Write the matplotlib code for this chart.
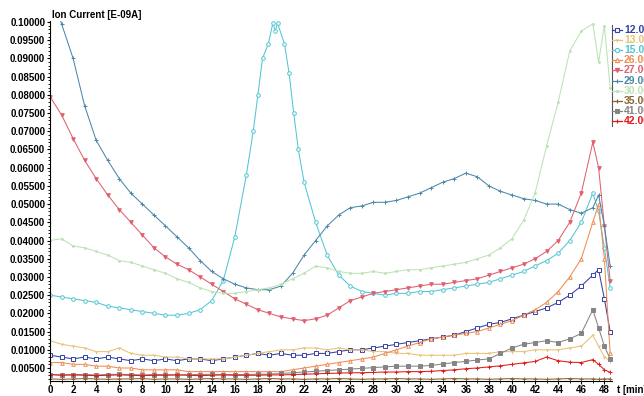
import numpy as np
import matplotlib.pyplot as plt
from matplotlib.ticker import MultipleLocator
from matplotlib.lines import Line2D

plt.rcParams['font.family'] = ['Liberation Sans', 'DejaVu Sans']

# time axis in minutes (most channels share it)
t = list(range(0, 48)) + [47.5, 48, 48.5]

# ion currents, values in 1e-3 of the plotted unit
m12 = [8.5, 8, 7.5, 8, 7.5, 8, 7.5, 7, 7.5, 7, 7.5, 7, 7.5, 7.5, 7, 7.5, 8, 8.5, 9, 8.5,
       9, 8.5, 8.5, 9, 9, 9.5, 10, 10, 10.5, 11, 11.5, 12, 12.5, 13, 13.5, 14, 15, 16, 17, 17.5,
       18.5, 19.5, 20.5, 21.5, 23, 25, 27.5, 30.5, 32, 24, 15]
m13 = [12.5, 11.5, 11, 10.5, 9.5, 9.5, 10.5, 9, 8.5, 8.5, 8, 8, 7.5, 7.5, 7.5, 7.5, 8, 8.5, 9, 9.5,
       10, 10, 10.5, 10.5, 10, 10.5, 10, 10, 9.5, 9.5, 9, 9, 8.5, 8.5, 8.5, 8.5, 9, 9, 9, 9.5,
       9.5, 9.5, 10, 10, 10, 10.5, 11, 14, 11, 8, 7]
m26 = [6.5, 6.5, 6, 6, 5.5, 5.5, 5, 5, 4.5, 4.5, 4.5, 4.5, 4, 4, 4, 4, 4, 4, 4, 4,
       4, 4.5, 5, 5.5, 6, 6.5, 7, 7.5, 8, 9, 10, 11, 12, 13, 13.5, 14, 14.5, 15, 16, 17,
       18, 19.5, 21, 23, 26, 30, 35, 45, 50, 35, 9]
m27 = [79.5, 74.5, 68, 62, 57, 52.5, 48.5, 45, 41.5, 38, 35.5, 33.5, 32, 30, 28, 26, 24, 22.5, 21, 20,
       19, 18.5, 18, 18.5, 19.5, 21.5, 23.5, 24.5, 25.5, 26, 26.5, 27, 27.5, 28, 28, 28.5, 29, 29.5, 30.5, 31.5,
       32.5, 33.5, 35, 37, 40, 45, 53, 67, 60, 44, 29]
m29 = [110, 99.5, 90, 77, 67.5, 62, 57, 53, 50, 47, 44, 41, 38, 34.5, 31.5, 29.5, 28, 27, 26.5, 26.5,
       27.5, 31, 36, 40, 44, 47, 49, 49.5, 50.5, 50.5, 51, 52, 53, 54.5, 56, 57, 58.5, 57.5, 55, 53.5,
       52.5, 51.5, 51, 50, 50, 48.5, 47.5, 49, 52.5, 44, 33]
m30 = [40, 40.5, 38.5, 38, 37, 36, 34.5, 34, 33, 32, 31, 29.5, 28.5, 27, 26, 25.5, 25.5, 26, 26.5, 27,
       28, 29.5, 31, 33, 32.5, 31.5, 31, 31, 31.5, 31, 31.5, 32, 32, 32.5, 33, 33.5, 34, 35, 36, 38,
       40.5, 45.5, 53, 66, 78, 92, 97.5, 99.5, 89, 99, 82]
m35 = [2.0, 1.9, 2.0, 2.1, 2.0, 1.9, 2.0, 2.0, 2.1, 1.9, 2.0, 2.0, 1.9, 2.0, 2.1, 2.0, 2.0, 1.9, 2.0, 2.1,
       2.0, 2.0, 1.9, 2.0, 2.0, 2.1, 2.0, 1.9, 2.0, 2.0, 2.1, 2.0, 2.0, 1.9, 2.0, 2.1, 2.0, 2.0, 1.9, 2.0,
       2.1, 2.0, 2.0, 1.9, 2.0, 2.1, 2.0, 2.0, 1.9, 2.0, 2.0]
m41 = [3.2, 3.1, 3.2, 3.2, 3.1, 3.2, 3.3, 3.2, 3.1, 3.2, 3.2, 3.1, 3.2, 3.2, 3.3, 3.2, 3.2, 3.2, 3.3, 3.3,
       3.5, 3.7, 3.9, 4.1, 4.3, 4.5, 4.7, 4.9, 5.1, 5.3, 5.5, 5.5, 5.5, 5.7, 6.1, 6.5, 6.8, 7.2, 7.5, 9,
       10.5, 11.5, 12, 12.5, 12, 13, 14.5, 21, 16, 11, 7.5]
m42 = [3.2, 3.0, 3.1, 3.0, 2.9, 3.0, 3.1, 3.0, 2.9, 3.0, 3.0, 3.1, 3.0, 2.9, 3.0, 3.1, 3.0, 3.0, 3.0, 3.1,
       3.1, 3.2, 3.3, 3.4, 3.5, 3.6, 3.7, 3.7, 3.8, 3.9, 3.9, 4.0, 4.0, 4.1, 4.3, 4.5, 4.8, 5.0, 5.3, 5.6,
       6.0, 6.4, 6.8, 8.0, 7.0, 6.6, 6.5, 7.3, 6.0, 4.5, 3.8]

# channel 15 has its own time base around the peak
t15 = list(range(0, 18)) + [17.6, 18, 18.4, 18.9, 19.3, 19.5, 19.7, 20.3, 20.7, 21.1, 21.5] + \
      list(range(22, 48)) + [47.5, 48, 48.5]
m15 = [25, 24.5, 24, 23.5, 23, 22, 21.5, 21, 20.5, 20, 19.5, 19.5, 20, 21, 23.5, 29, 41, 58,
       70, 80, 90, 94, 99.7, 97.5, 99.7, 94, 86, 75, 65,
       56, 45, 36, 30.5, 27.5, 26, 25.5, 25, 25.5, 25.5, 26, 26, 26.5, 27, 27.5, 28, 28.5, 29.5,
       30.5, 31.5, 33, 34.5, 36.5, 40, 45, 53, 48, 38, 27]

labels = ['12.00', '13.00', '15.00', '26.00', '27.00', '29.00', '30.00', '35.00', '41.00', '42.00']
colors = ['#3341a6', '#e6c272', '#52c6d2', '#ef8c52', '#e0606e', '#4a88a8', '#bce3b4', '#8a6232', '#858585', '#e01a1a']
markers = ['s', '1', 'o', '^', 'v', '+', '.', '+', 's', '+']
filled = [False, True, False, False, True, True, True, True, True, True]

series = [(t, m12), (t, m13), (t15, m15), (t, m26), (t, m27), (t, m29), (t, m30), (t, m35), (t, m41), (t, m42)]

fig = plt.figure(figsize=(6.44, 3.96), dpi=100)
ax = fig.add_axes([50/644, 15/396, 562/644, 360/396])

for (tx, vals), col, mk, fl in zip(series, colors, markers, filled):
    y = np.array(vals) * 1e-3
    ax.plot(tx, y, color=col, lw=0.75, marker=mk, ms=2.6, mew=0.7,
            mfc=col if fl else 'white', mec=col)

ax.set_xlim(0, 48.66)
ax.set_ylim(0.00143, 0.10027)
ax.yaxis.set_major_locator(MultipleLocator(0.005))
ax.yaxis.set_minor_locator(MultipleLocator(0.001))
ax.xaxis.set_major_locator(MultipleLocator(2))
ax.xaxis.set_minor_locator(MultipleLocator(1))
ax.yaxis.set_major_formatter(lambda v, p: '%.5f' % v)
ax.tick_params(axis='both', which='major', length=2.5, width=0.8, labelsize=7, pad=1)
ax.tick_params(axis='x', which='major', pad=0.5)
ax.tick_params(axis='both', which='minor', length=1.5, width=0.6)
for lab in ax.get_xticklabels() + ax.get_yticklabels():
    lab.set_fontweight('bold')
ax.spines['top'].set_visible(False)
ax.spines['right'].set_visible(False)

fig.text(52/644, 1 - 15/396, 'Ion Current [E-09A]', fontsize=7, fontweight='bold', va='center')
fig.text(617/644, 1 - 390/396, 't [min]', fontsize=7, fontweight='bold', va='center')

# legend drawn by hand, bracket on the left
fig.add_artist(Line2D([612/644, 612/644], [1 - 25/396, 1 - 126/396], color='#555555', lw=0.8))
for i, (lab, col, mk, fl) in enumerate(zip(labels, colors, markers, filled)):
    yy = 1 - (30 + 10.1 * i) / 396
    fig.add_artist(Line2D([612/644, 622/644], [yy, yy], color=col, lw=0.9))
    fig.add_artist(Line2D([617/644], [yy], color=col, marker=mk, ms=3, mew=0.8,
                          mfc=col if fl else 'white', mec=col))
    fig.text(624/644, yy, lab, color=col, fontsize=7.5, fontweight='bold', va='center')

plt.savefig('out.png', dpi=100)
